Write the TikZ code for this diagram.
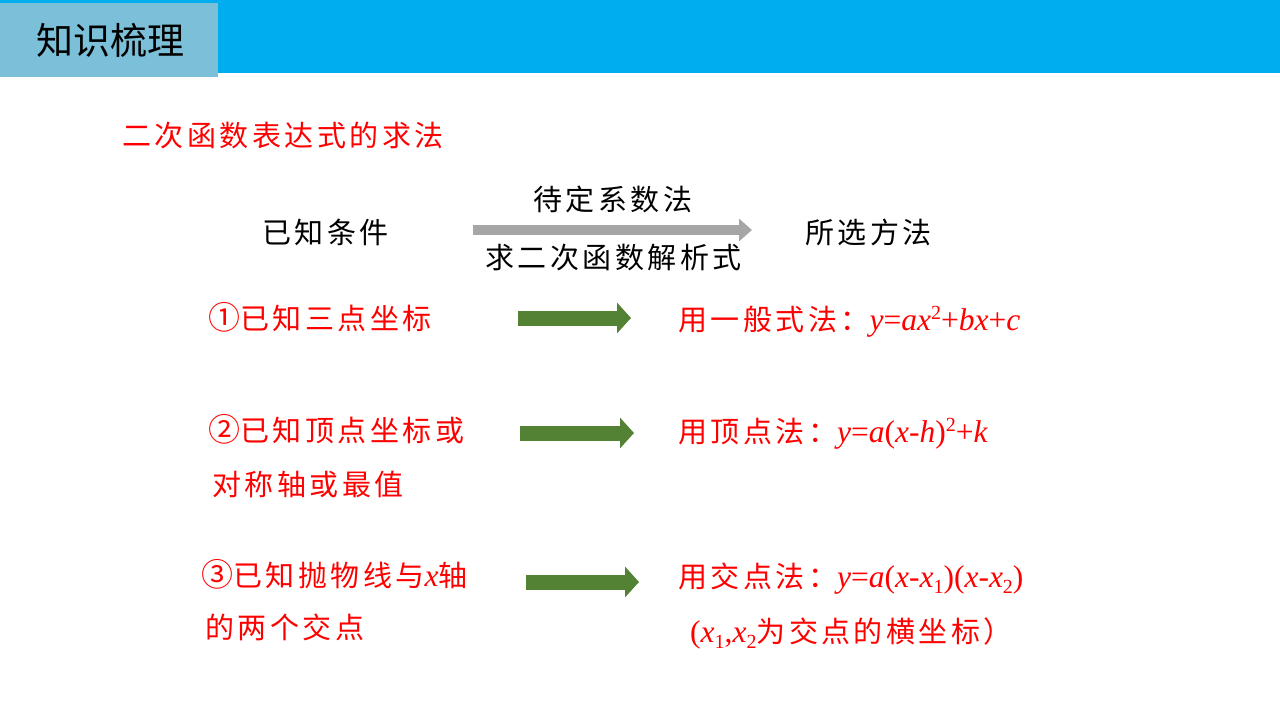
\documentclass[tikz,border=0pt]{standalone}
\usepackage{fontspec}
\usetikzlibrary{arrows.meta}
\newfontfamily\cjk[LetterSpace=12]{Noto Sans CJK SC}
\newfontfamily\cjkh{Noto Sans CJK SC}
\newfontfamily\tms{Liberation Serif}
\definecolor{barblue}{HTML}{00ADEF}
\definecolor{boxblue}{HTML}{7BC0D8}
\definecolor{agreen}{HTML}{548235}
\definecolor{agray}{HTML}{A6A6A6}
\definecolor{tred}{HTML}{FF0000}
\newcommand{\mi}[1]{{\tms\fontsize{31.5}{34}\selectfont\itshape #1}}
\newcommand{\mr}[1]{{\tms\fontsize{31.5}{34}\selectfont #1}}
\newcommand{\mysup}[1]{\raisebox{11pt}{\tms\fontsize{20}{20}\selectfont #1}}
\newcommand{\mysub}[1]{\raisebox{-6pt}{\tms\fontsize{20}{20}\selectfont #1}}
\newcommand{\circnum}[1]{{\fontsize{32}{34}\selectfont #1}}
\tikzset{
  txt/.style={anchor=base west, inner sep=0pt, font=\cjk\fontsize{29}{32}\selectfont},
  redtxt/.style={txt, text=tred},
  greenarrow/.style={draw=agreen, line width=15pt, -{Triangle[length=14pt,width=30pt]}},
  grayarrow/.style={draw=agray, line width=10pt, -{Triangle[length=13pt,width=22pt]}}
}
\begin{document}
\begin{tikzpicture}[x=1pt,y=-1pt]
\useasboundingbox (0,0) rectangle (1280,720);
\fill[white] (0,0) rectangle (1280,720);
\fill[barblue] (0,0) rectangle (1280,73);
\fill[boxblue] (0,3) rectangle (218,77);
\node[anchor=base west, inner sep=0pt, font=\cjkh\fontsize{37}{40}\selectfont] (hdr) at (36,54) {知识梳理};

\node[redtxt] (title) at (122,146) {二次函数表达式的求法};

\node[txt] (known) at (262,243) {已知条件};
\node[txt] (dd) at (533,210) {待定系数法};
\node[txt] (qj) at (485,268) {求二次函数解析式};
\node[txt] (method) at (805,243) {所选方法};
\coordinate (g0) at (473,230);
\coordinate (g1) at (752,230);
\draw[grayarrow] (g0) -- (g1);

\node[redtxt] (l1) at (208,329) {\circnum{①}已知三点坐标};
\node[redtxt] (l2) at (208,441) {\circnum{②}已知顶点坐标或};
\node[redtxt] (l2b) at (212,495) {对称轴或最值};
\node[redtxt] (l3) at (201,586) {\circnum{③}已知抛物线与\mi{x}轴};
\node[redtxt] (l3b) at (205,638) {的两个交点};

\node[redtxt] (r1) at (678,330) {用一般式法：\mi{y}\mr{=}\mi{ax}\mysup{2}\mr{+}\mi{bx}\mr{+}\mi{c}};
\node[redtxt] (r2) at (678,442) {用顶点法：\mi{y}\mr{=}\mi{a}\mr{(}\mi{x}\mr{-}\mi{h}\mr{)}\mysup{2}\mr{+}\mi{k}};
\node[redtxt] (r3) at (678,587) {用交点法：\mi{y}\mr{=}\mi{a}\mr{(}\mi{x}\mr{-}\mi{x}\mysub{1}\mr{)(}\mi{x}\mr{-}\mi{x}\mysub{2}\mr{)}};
\node[redtxt] (r3b) at (690,642) {\mr{(}\mi{x}\mysub{1}\mr{,}\mi{x}\mysub{2}为交点的横坐标）};

\coordinate (a1s) at (518,318);
\coordinate (a1e) at (631,318);
\coordinate (a2s) at (520,433);
\coordinate (a2e) at (634,433);
\coordinate (a3s) at (526,582);
\coordinate (a3e) at (639,582);
\draw[greenarrow] (a1s) -- (a1e);
\draw[greenarrow] (a2s) -- (a2e);
\draw[greenarrow] (a3s) -- (a3e);
\end{tikzpicture}
\end{document}
